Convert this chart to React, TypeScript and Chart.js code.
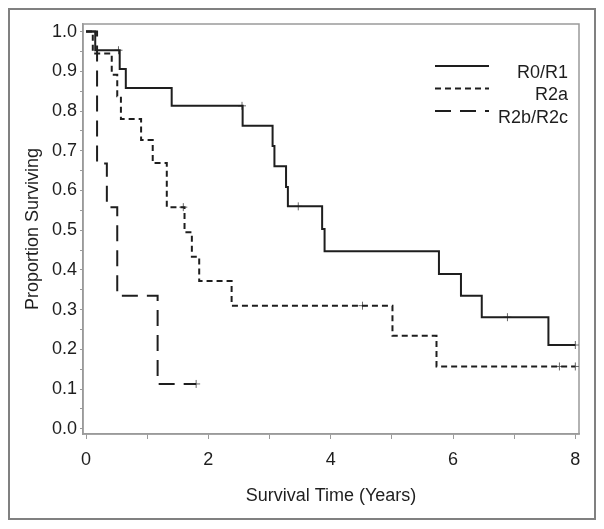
import React, { useEffect, useRef } from "react";
import { Chart, registerables } from "chart.js";

Chart.register(...registerables);

// ---- Data ----
const seriesLabels = ["R0/R1", "R2a", "R2b/R2c"];

const timesR0 = [0, 0.15, 0.55, 0.65, 1.4, 2.56, 3.05, 3.08, 3.27, 3.3, 3.86, 3.9, 5.77, 6.13, 6.47, 7.56, 8.0];
const survR0 = [1.0, 0.953, 0.906, 0.858, 0.813, 0.763, 0.712, 0.661, 0.609, 0.56, 0.503, 0.447, 0.39, 0.335, 0.281, 0.211, 0.211];
const censorTimesR0 = [0.53, 2.55, 3.47, 6.89, 8.0];
const censorSurvR0 = [0.953, 0.813, 0.56, 0.281, 0.211];

const timesR2a = [0, 0.11, 0.42, 0.51, 0.57, 0.9, 1.09, 1.32, 1.61, 1.73, 1.85, 2.38, 5.01, 5.73, 8.0];
const survR2a = [1.0, 0.945, 0.891, 0.837, 0.78, 0.727, 0.669, 0.558, 0.495, 0.433, 0.372, 0.31, 0.234, 0.157, 0.157];
const censorTimesR2a = [1.59, 4.52, 7.74, 8.0];
const censorSurvR2a = [0.558, 0.31, 0.157, 0.157];

const timesR2b = [0, 0.18, 0.34, 0.51, 1.17, 1.8];
const survR2b = [1.0, 0.668, 0.558, 0.335, 0.113, 0.113];
const censorTimesR2b = [1.8];
const censorSurvR2b = [0.113];

const xTickValues = [0, 1, 2, 3, 4, 5, 6, 7, 8];
const xTickLabels = ["0", "", "2", "", "4", "", "6", "", "8"];
const yTickValues = [0, 0.05, 0.1, 0.15, 0.2, 0.25, 0.3, 0.35, 0.4, 0.45, 0.5, 0.55, 0.6, 0.65, 0.7, 0.75, 0.8, 0.85, 0.9, 0.95, 1.0];
const yTickLabels = ["0.0", "", "0.1", "", "0.2", "", "0.3", "", "0.4", "", "0.5", "", "0.6", "", "0.7", "", "0.8", "", "0.9", "", "1.0"];

const xTitle = "Survival Time (Years)";
const yTitle = "Proportion Surviving";

// ---- Styles ----
const FONT = '"Liberation Sans", Arial, Helvetica, sans-serif';
const LINE_COLOR = "#1e1e1e";
const CENSOR_COLOR = "#666666";
const AXIS_COLOR = "#9a9a9a";
const dashes = [[], [6, 4], [16, 9]];

const toPoints = (xs: number[], ys: number[]) => xs.map((x, i) => ({ x, y: ys[i] }));

const legendPlugin = {
  id: "kmLegend",
  afterDraw(chart: any) {
    const { ctx, chartArea } = chart;
    ctx.save();
    seriesLabels.forEach((label, i) => {
      const y = chartArea.top + 42 + i * 22.5;
      ctx.setLineDash(dashes[i]);
      ctx.lineWidth = 2;
      ctx.strokeStyle = LINE_COLOR;
      ctx.beginPath();
      ctx.moveTo(chartArea.right - 144, y);
      ctx.lineTo(chartArea.right - 90, y);
      ctx.stroke();
      ctx.setLineDash([]);
      ctx.font = "18px " + FONT;
      ctx.fillStyle = "#1e1e1e";
      ctx.textAlign = "right";
      ctx.textBaseline = "middle";
      ctx.fillText(label, chartArea.right - 11, y + 7);
    });
    ctx.restore();
  },
};

const framePlugin = {
  id: "frames",
  beforeDatasetsDraw(chart: any) {
    const { ctx, chartArea } = chart;
    ctx.save();
    ctx.strokeStyle = AXIS_COLOR;
    ctx.lineWidth = 1.5;
    ctx.strokeRect(chartArea.left, chartArea.top, chartArea.right - chartArea.left, chartArea.bottom - chartArea.top);
    ctx.restore();
  },
  afterDraw(chart: any) {
    const { ctx } = chart;
    ctx.save();
    ctx.strokeStyle = "#808080";
    ctx.lineWidth = 2;
    ctx.strokeRect(9, 9, 586, 510);
    ctx.restore();
  },
};

export default function App() {
  const canvasRef = useRef<HTMLCanvasElement | null>(null);

  useEffect(() => {
    if (!canvasRef.current) return;
    const lineStyle = (i: number) => ({
      borderColor: LINE_COLOR,
      borderWidth: 2,
      borderDash: dashes[i],
      pointRadius: 0,
      fill: false,
      stepped: "before" as const,
      tension: 0,
    });
    const censorStyle = {
      type: "scatter" as const,
      showLine: false,
      pointStyle: "cross",
      pointRadius: 4,
      borderColor: CENSOR_COLOR,
      backgroundColor: CENSOR_COLOR,
      borderWidth: 1,
    };
    const chart = new Chart(canvasRef.current, {
      type: "line",
      data: {
        datasets: [
          { label: seriesLabels[0], data: toPoints(timesR0, survR0), ...lineStyle(0) },
          { label: seriesLabels[1], data: toPoints(timesR2a, survR2a), ...lineStyle(1) },
          { label: seriesLabels[2], data: toPoints(timesR2b, survR2b), ...lineStyle(2) },
          { label: "c1", data: toPoints(censorTimesR0, censorSurvR0), ...censorStyle },
          { label: "c2", data: toPoints(censorTimesR2a, censorSurvR2a), ...censorStyle },
          { label: "c3", data: toPoints(censorTimesR2b, censorSurvR2b), ...censorStyle },
        ] as any,
      },
      options: {
        responsive: false,
        animation: false,
        layout: { padding: { left: 0, top: 24, right: 25, bottom: 0 } },
        plugins: {
          legend: { display: false },
          tooltip: { enabled: false },
        },
        scales: {
          x: {
            type: "linear",
            min: -0.05,
            max: 8.06,
            afterBuildTicks: (scale: any) => {
              scale.ticks = xTickValues.map((v) => ({ value: v }));
            },
            afterFit: (scale: any) => {
              scale.height = 95;
            },
            ticks: {
              autoSkip: false,
              maxRotation: 0,
              padding: 10,
              color: "#1e1e1e",
              font: { size: 18, family: FONT },
              callback: (value: any) => {
                const idx = xTickValues.indexOf(Number(value));
                return idx >= 0 ? xTickLabels[idx] : "";
              },
            },
            grid: { drawOnChartArea: false, drawTicks: true, tickLength: 5, color: AXIS_COLOR, lineWidth: 1 },
            border: { display: true, color: AXIS_COLOR, width: 1.5 },
            title: {
              display: true,
              text: xTitle,
              color: "#1e1e1e",
              font: { size: 18, family: FONT },
              padding: { top: 0, bottom: 22 },
            },
          },
          y: {
            type: "linear",
            min: -0.013,
            max: 1.019,
            afterBuildTicks: (scale: any) => {
              scale.ticks = yTickValues.map((v) => ({ value: v }));
            },
            afterFit: (scale: any) => {
              scale.width = 83;
            },
            ticks: {
              autoSkip: false,
              padding: 3,
              color: "#1e1e1e",
              font: { size: 18, family: FONT },
              callback: (value: any) => {
                const idx = yTickValues.findIndex((v) => Math.abs(v - Number(value)) < 1e-6);
                return idx >= 0 ? yTickLabels[idx] : "";
              },
            },
            grid: { drawOnChartArea: false, drawTicks: true, tickLength: 3, color: AXIS_COLOR, lineWidth: 1 },
            border: { display: true, color: AXIS_COLOR, width: 1.5 },
            title: {
              display: true,
              text: yTitle,
              color: "#1e1e1e",
              font: { size: 18, family: FONT },
              padding: { top: 22, bottom: 0 },
            },
          },
        },
      },
      plugins: [framePlugin, legendPlugin],
    });
    return () => chart.destroy();
  }, []);

  return (
    <div style={{ position: "absolute", left: 0, top: 0, width: 604, height: 529, background: "#fff" }}>
      <canvas ref={canvasRef} width={604} height={529} style={{ display: "block" }} />
    </div>
  );
}
